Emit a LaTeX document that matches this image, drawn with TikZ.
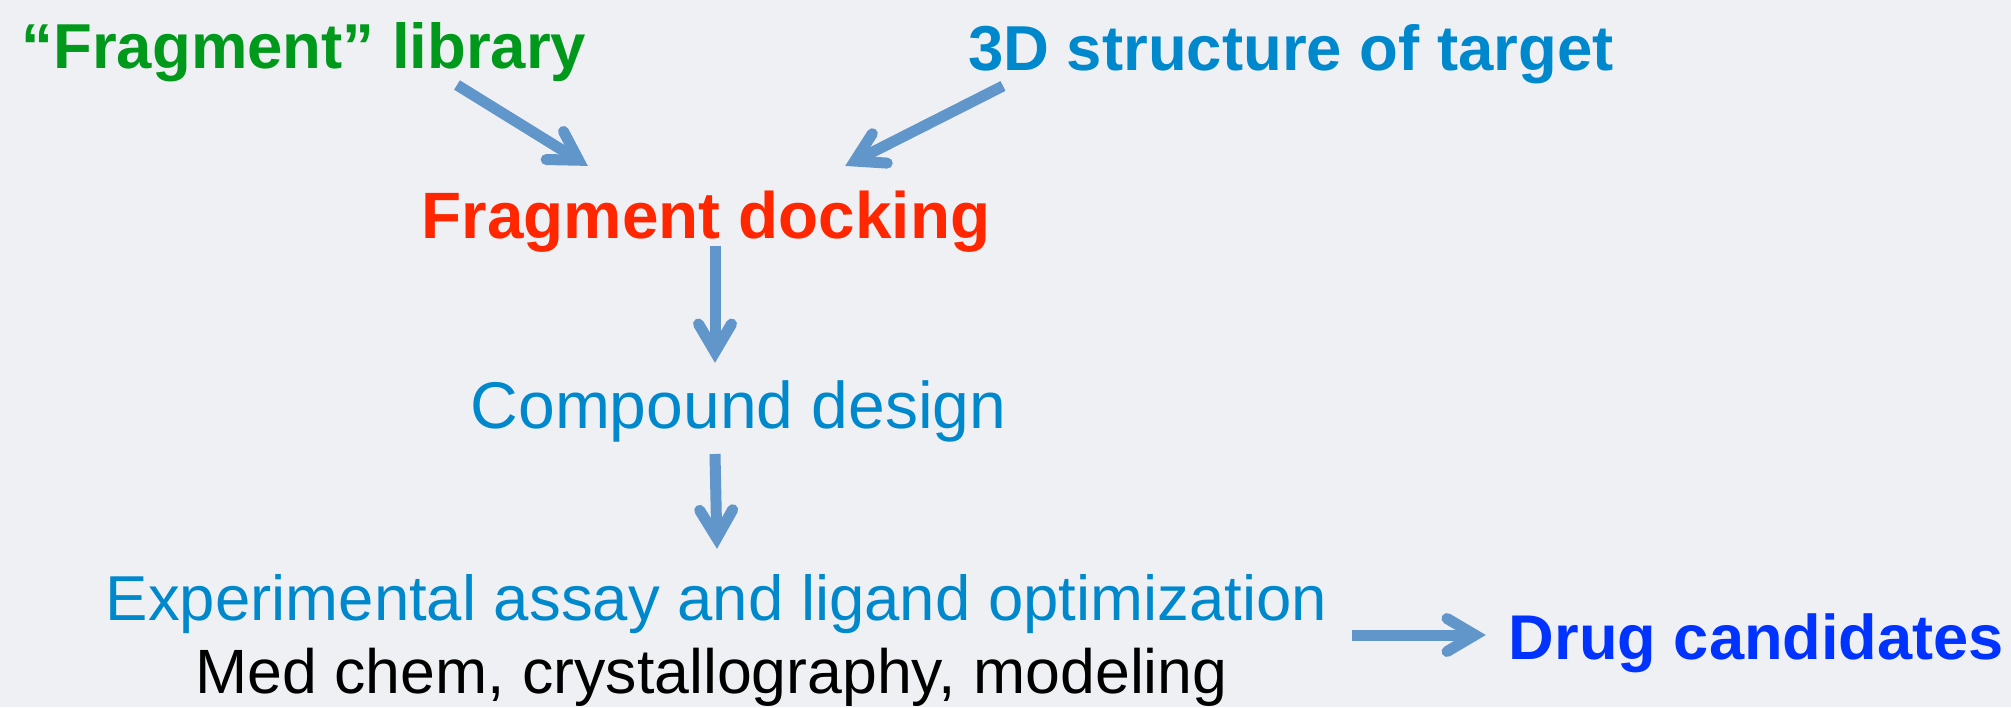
\documentclass[tikz,border=0pt]{standalone}
\usepackage{fontspec}
\setmainfont{Liberation Sans}
\definecolor{bgc}{HTML}{EFF0F4}
\definecolor{fgreen}{HTML}{00991C}
\definecolor{tblue}{HTML}{0088CC}
\definecolor{dred}{HTML}{FF2600}
\definecolor{dblue}{HTML}{0033FF}
\definecolor{arrc}{HTML}{6096C9}
\pgfdeclarearrow{
  name=KeyHead,
  parameters={},
  setup code={
    \pgfarrowssettipend{0pt}
    \pgfarrowssetlineend{-14pt}
    \pgfarrowssetvisualbackend{-44pt}
    \pgfarrowssetbackend{-44pt}
    \pgfarrowsupperhullpoint{-44pt}{22pt}
    \pgfarrowsupperhullpoint{0pt}{0pt}
  },
  drawing code={
    \pgfsetlinewidth{11pt}
    \pgfsetroundcap
    \pgfsetmiterjoin
    \pgfpathmoveto{\pgfqpoint{-39pt}{16.5pt}}
    \pgfpathlineto{\pgfqpoint{-11pt}{0pt}}
    \pgfpathlineto{\pgfqpoint{-39pt}{-16.5pt}}
    \pgfusepathqstroke
  }
}
\tikzset{
  lbl/.style={inner sep=0pt, anchor=base},
  flow/.style={draw=arrc, line width=11pt, -KeyHead},
}
\newcommand{\fsz}[1]{\fontsize{#1}{#1}\selectfont}
\begin{document}
\begin{tikzpicture}[x=1pt, y=-1pt]
\fill[bgc] (0,0) rectangle (2011,707);
\useasboundingbox (0,0) rectangle (2011,707);
% labels
\node[lbl, text=fgreen] (lib) at (304,68) {\fsz{63.5}\bfseries “Fragment” library};
\node[lbl, text=tblue] (tgt) at (1291,70) {\fsz{63.5}\bfseries 3D structure of target};
\node[lbl, text=dred] (dock) at (706,238) {\fsz{65.6}\bfseries Fragment docking};
\node[lbl, text=tblue] (cmp) at (738.5,428) {\fsz{66}Compound design};
\node[lbl, text=tblue] (exp) at (716.5,620) {\fsz{63.5}Experimental assay and ligand optimization};
\node[lbl, text=black] (med) at (711.5,693) {\fsz{62.6}Med chem, crystallography, modeling};
\node[lbl, text=dblue] (drug) at (1756.5,659) {\fsz{63.2}\bfseries Drug candidates};
% connector ends
\coordinate (a1s) at (457,85);
\coordinate (a1e) at (588,166);
\coordinate (a2s) at (1003,86);
\coordinate (a2e) at (845,166);
\coordinate (a3s) at (715,246);
\coordinate (a3e) at (715,363);
\coordinate (a4s) at (715,454);
\coordinate (a4e) at (717,549);
\coordinate (a5s) at (1352,635);
\coordinate (a5e) at (1486,635);
\draw[flow] (a1s) -- (a1e);
\draw[flow] (a2s) -- (a2e);
\draw[flow] (a3s) -- (a3e);
\draw[flow] (a4s) -- (a4e);
\draw[flow] (a5s) -- (a5e);
\end{tikzpicture}
\end{document}
